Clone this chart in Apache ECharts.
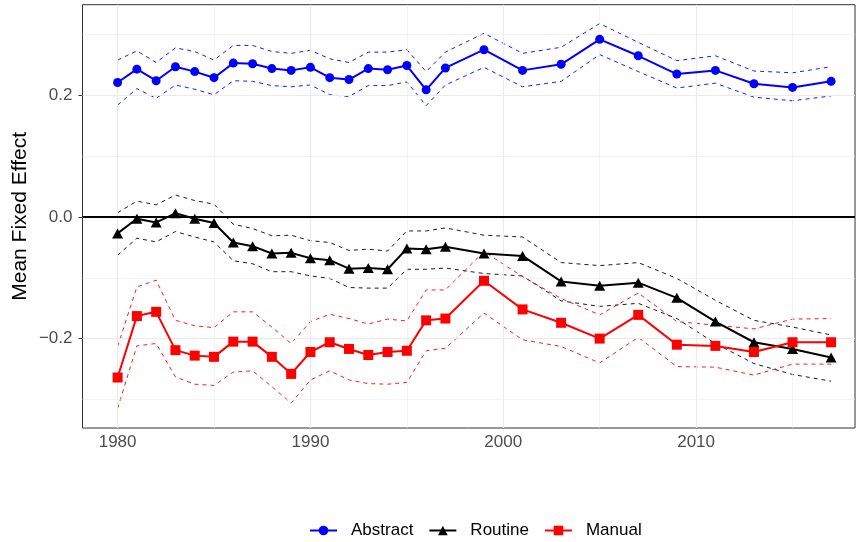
<!DOCTYPE html>
<html>
<head>
<meta charset="utf-8">
<title>Mean Fixed Effect by Year</title>
<script src="https://cdn.jsdelivr.net/npm/echarts@6/dist/echarts.min.js"></script>
<style>
  html, body { margin: 0; padding: 0; background: #ffffff; }
  #chart { width: 856px; height: 542px; }
</style>
</head>
<body>
<div id="chart"></div>
<script>
// Survey years (annual until 1997, then every other year)
const years = [1980, 1981, 1982, 1983, 1984, 1985, 1986, 1987, 1988, 1989,
               1990, 1991, 1992, 1993, 1994, 1995, 1996, 1997,
               1999, 2001, 2003, 2005, 2007, 2009, 2011, 2013, 2015, 2017];

// Abstract task intensity: estimate and 95% band
const abstractMean = [0.221, 0.243, 0.224, 0.247, 0.239, 0.229, 0.253, 0.252, 0.244, 0.241,
                      0.246, 0.229, 0.226, 0.244, 0.242, 0.249, 0.209, 0.245,
                      0.275, 0.241, 0.251, 0.292, 0.265, 0.235, 0.241, 0.219, 0.213, 0.223];
const abstractUpper = [0.258, 0.273, 0.254, 0.278, 0.272, 0.258, 0.282, 0.282, 0.272, 0.269,
                       0.274, 0.260, 0.254, 0.271, 0.271, 0.275, 0.239, 0.271,
                       0.302, 0.269, 0.279, 0.318, 0.287, 0.257, 0.265, 0.240, 0.237, 0.247];
const abstractLower = [0.184, 0.211, 0.195, 0.217, 0.210, 0.201, 0.224, 0.223, 0.216, 0.214,
                       0.217, 0.201, 0.198, 0.216, 0.216, 0.222, 0.183, 0.217,
                       0.246, 0.214, 0.223, 0.267, 0.239, 0.212, 0.220, 0.197, 0.191, 0.199];

// Routine task intensity
const routineMean = [-0.027, -0.003, -0.009, 0.006, -0.003, -0.010, -0.042, -0.048, -0.060, -0.059,
                     -0.068, -0.071, -0.085, -0.084, -0.086, -0.052, -0.053, -0.049,
                     -0.060, -0.064, -0.106, -0.113, -0.108, -0.133, -0.172, -0.206, -0.217, -0.231];
const routineUpper = [0.007, 0.026, 0.020, 0.036, 0.027, 0.021, -0.012, -0.019, -0.031, -0.030,
                      -0.039, -0.042, -0.055, -0.053, -0.056, -0.023, -0.023, -0.018,
                      -0.030, -0.033, -0.075, -0.080, -0.075, -0.101, -0.137, -0.170, -0.181, -0.194];
const routineLower = [-0.063, -0.035, -0.041, -0.024, -0.033, -0.041, -0.072, -0.077, -0.090, -0.090,
                      -0.097, -0.101, -0.116, -0.117, -0.117, -0.086, -0.086, -0.084,
                      -0.093, -0.097, -0.138, -0.147, -0.142, -0.167, -0.208, -0.241, -0.259, -0.270];

// Manual task intensity
const manualMean = [-0.264, -0.163, -0.156, -0.219, -0.228, -0.230, -0.205, -0.205, -0.230, -0.258,
                    -0.222, -0.206, -0.217, -0.227, -0.222, -0.220, -0.170, -0.167,
                    -0.105, -0.152, -0.174, -0.200, -0.161, -0.210, -0.212, -0.222, -0.206, -0.206];
const manualUpper = [-0.213, -0.115, -0.104, -0.170, -0.179, -0.182, -0.156, -0.156, -0.181, -0.208,
                     -0.172, -0.160, -0.167, -0.176, -0.168, -0.171, -0.120, -0.120,
                     -0.057, -0.098, -0.134, -0.161, -0.125, -0.172, -0.178, -0.184, -0.168, -0.167];
const manualLower = [-0.315, -0.212, -0.208, -0.263, -0.275, -0.277, -0.255, -0.253, -0.279, -0.306,
                     -0.268, -0.253, -0.268, -0.274, -0.275, -0.272, -0.220, -0.216,
                     -0.158, -0.202, -0.213, -0.240, -0.198, -0.246, -0.247, -0.260, -0.242, -0.242];

// Axis ticks and grid positions
const xTicks = [1980, 1990, 2000, 2010];
const xMinorGrid = [1985, 1995, 2005, 2015];
const yTicks = [-0.2, 0, 0.2];
const yMinorGrid = [-0.3, -0.1, 0.1, 0.3];

const FONT = '"Liberation Sans", Arial, Helvetica, sans-serif';

function pairs(values) {
  return years.map((y, i) => [y, values[i]]);
}

function fmtY(v) {
  if (Math.abs(v) < 1e-9) return '0.0';
  return (v < 0 ? '\u2212' : '') + Math.abs(v).toFixed(1);
}

function estimateSeries(name, color, symbol, size, values) {
  return {
    name: name,
    type: 'line',
    data: pairs(values),
    symbol: symbol,
    symbolSize: size,
    showSymbol: true,
    itemStyle: { color: color },
    lineStyle: { color: color, width: 2 },
    z: 5,
    animation: false
  };
}

function bandSeries(id, color, values) {
  return {
    id: id,
    type: 'line',
    data: pairs(values),
    symbol: 'none',
    lineStyle: { color: color, width: 0.9, type: [4, 4] },
    silent: true,
    z: 4,
    animation: false
  };
}

const gridLines = []
  .concat(xTicks.map(v => ({ xAxis: v, lineStyle: { color: '#ebebeb', width: 1.2, type: 'solid' } })))
  .concat(xMinorGrid.map(v => ({ xAxis: v, lineStyle: { color: '#ebebeb', width: 0.6, type: 'solid' } })))
  .concat(yTicks.map(v => ({ yAxis: v, lineStyle: { color: '#ebebeb', width: 1.2, type: 'solid' } })))
  .concat(yMinorGrid.map(v => ({ yAxis: v, lineStyle: { color: '#ebebeb', width: 0.6, type: 'solid' } })));

const chart = echarts.init(document.getElementById('chart'), null, { renderer: 'canvas' });

chart.setOption({
  backgroundColor: '#ffffff',
  animation: false,
  textStyle: { fontFamily: FONT },
  grid: {
    left: 82.5, right: 1, top: 4.7, bottom: 114,
    outerBoundsMode: 'none',
    show: true, borderColor: '#333333', borderWidth: 1, backgroundColor: '#ffffff'
  },
  legend: {
    data: ['Abstract', 'Routine', 'Manual'],
    left: 304,
    top: 517,
    itemWidth: 27,
    itemHeight: 12,
    itemGap: 15,
    textStyle: { fontFamily: FONT, fontSize: 17, color: '#000000', padding: [0, 0, 0, 9] }
  },
  xAxis: {
    type: 'value',
    min: 1978.18,
    max: 2018.24,
    axisLine: { show: false },
    splitLine: { show: false },
    axisTick: { show: true, customValues: xTicks, length: 4, lineStyle: { color: '#333333', width: 1 } },
    axisLabel: {
      customValues: xTicks, margin: 6, fontSize: 17, color: '#4d4d4d', fontFamily: FONT,
      formatter: v => String(v)
    }
  },
  yAxis: {
    type: 'value',
    min: -0.347,
    max: 0.349,
    name: 'Mean Fixed Effect',
    nameLocation: 'middle',
    nameGap: 52,
    nameMoveOverlap: false,
    nameTextStyle: { fontSize: 21, color: '#000000', fontFamily: FONT },
    axisLine: { show: false },
    splitLine: { show: false },
    axisTick: { show: true, customValues: yTicks, length: 4, lineStyle: { color: '#333333', width: 1 } },
    axisLabel: {
      customValues: yTicks, margin: 10, fontSize: 17, color: '#4d4d4d', fontFamily: FONT,
      formatter: fmtY
    }
  },
  series: [
    {
      id: 'panel-grid',
      type: 'line',
      data: [],
      silent: true,
      z: 1,
      markLine: { silent: true, symbol: 'none', label: { show: false }, animation: false, data: gridLines }
    },
    {
      id: 'zero-line',
      type: 'line',
      data: [],
      silent: true,
      z: 2,
      markLine: {
        silent: true, symbol: 'none', label: { show: false }, animation: false,
        data: [{ yAxis: 0, lineStyle: { color: '#000000', width: 1.9, type: 'solid' } }]
      }
    },
    bandSeries('abstract-upper', '#0000ff', abstractUpper),
    bandSeries('abstract-lower', '#0000ff', abstractLower),
    bandSeries('routine-upper', '#000000', routineUpper),
    bandSeries('routine-lower', '#000000', routineLower),
    bandSeries('manual-upper', '#ff0000', manualUpper),
    bandSeries('manual-lower', '#ff0000', manualLower),
    estimateSeries('Abstract', '#0000ff', 'circle', 9, abstractMean),
    estimateSeries('Routine', '#000000', 'triangle', [11, 10], routineMean),
    estimateSeries('Manual', '#ff0000', 'rect', 10, manualMean)
  ]
});
</script>
</body>
</html>
